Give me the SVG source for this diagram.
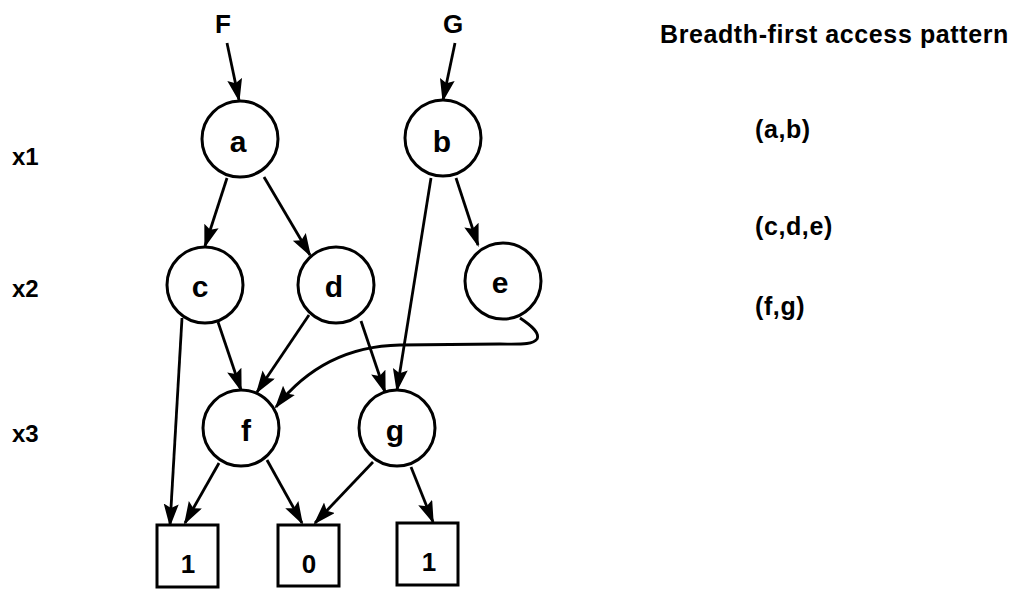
<svg xmlns="http://www.w3.org/2000/svg" width="1017" height="589" viewBox="0 0 1017 589">
  <style>
    .node { fill: #fff; stroke: #000; stroke-width: 3; }
    .lbl { font-family: "Liberation Sans", Arial, sans-serif; font-weight: bold; fill: #000; }
    .nt { font-size: 30px; text-anchor: middle; }
    .bt { font-size: 26px; text-anchor: middle; }
    .var { font-size: 24px; }
    .side { font-size: 25px; letter-spacing: 0.6px; }
    .edge { fill: none; stroke: #000; stroke-width: 2.8; marker-end: url(#arrow); }
  </style>
  <defs>
    <marker id="arrow" markerUnits="userSpaceOnUse" markerWidth="26" markerHeight="18" refX="21" refY="7.5" orient="auto">
      <path d="M0,0 L23,7.5 L0,15 L4,7.5 z" fill="#000"/>
    </marker>
  </defs>
  <rect width="1017" height="589" fill="#fff"/>

  <!-- variable order labels -->
  <g id="levels" class="lbl var">
    <text x="12" y="165">x1</text>
    <text x="12" y="297">x2</text>
    <text x="12" y="442">x3</text>
  </g>

  <!-- function roots -->
  <g id="root-F"><text class="lbl bt" x="223" y="33">F</text></g>
  <g id="root-G"><text class="lbl bt" x="453" y="33">G</text></g>

  <!-- edges -->
  <g id="connectors">
    <line class="edge" x1="227" y1="43" x2="239" y2="100"/>
    <line class="edge" x1="455" y1="43" x2="443" y2="100"/>
    <line class="edge" x1="227" y1="178" x2="205" y2="246"/>
    <line class="edge" x1="264" y1="177" x2="310" y2="255"/>
    <line class="edge" x1="456" y1="178" x2="478" y2="245"/>
    <line class="edge" x1="431" y1="178" x2="397" y2="390"/>
    <line class="edge" x1="182" y1="318" x2="170" y2="525"/>
    <line class="edge" x1="218" y1="322" x2="241" y2="390"/>
    <line class="edge" x1="309" y1="315" x2="257" y2="392"/>
    <line class="edge" x1="361" y1="321" x2="385" y2="392"/>
    <path class="edge" d="M520,318 C532,326 540,333 537,339 C533,345 520,344 500,344 L400,345 C345,346 305,370 276,407"/>
    <line class="edge" x1="219" y1="463" x2="185" y2="523"/>
    <line class="edge" x1="267" y1="460" x2="302" y2="523"/>
    <line class="edge" x1="373" y1="462" x2="315" y2="523"/>
    <line class="edge" x1="411" y1="467" x2="433" y2="522"/>
  </g>

  <!-- decision nodes -->
  <g id="node-a"><circle class="node" cx="240" cy="139" r="38"/><text class="lbl nt" x="238" y="152">a</text></g>
  <g id="node-b"><circle class="node" cx="443" cy="138" r="38"/><text class="lbl nt" x="442" y="152">b</text></g>
  <g id="node-c"><circle class="node" cx="205" cy="285" r="38"/><text class="lbl nt" x="200" y="297">c</text></g>
  <g id="node-d"><circle class="node" cx="336" cy="285" r="38"/><text class="lbl nt" x="334" y="297">d</text></g>
  <g id="node-e"><circle class="node" cx="503" cy="281" r="38"/><text class="lbl nt" x="500" y="293">e</text></g>
  <g id="node-f"><circle class="node" cx="241" cy="428" r="38"/><text class="lbl nt" x="246" y="441">f</text></g>
  <g id="node-g"><circle class="node" cx="397" cy="428" r="38"/><text class="lbl nt" x="395" y="441">g</text></g>

  <!-- terminal nodes -->
  <g id="term-1a"><rect class="node" x="157" y="525" width="61" height="62"/><text class="lbl bt" x="188" y="573">1</text></g>
  <g id="term-0"><rect class="node" x="278" y="525" width="61" height="61"/><text class="lbl bt" x="309" y="573">0</text></g>
  <g id="term-1b"><rect class="node" x="397" y="523" width="61" height="62"/><text class="lbl bt" x="429" y="571">1</text></g>

  <!-- access order listing -->
  <g id="access-pattern" class="lbl side">
    <text x="660" y="43">Breadth-first access pattern</text>
    <text x="755" y="138">(a,b)</text>
    <text x="755" y="235">(c,d,e)</text>
    <text x="755" y="315">(f,g)</text>
  </g>
</svg>
